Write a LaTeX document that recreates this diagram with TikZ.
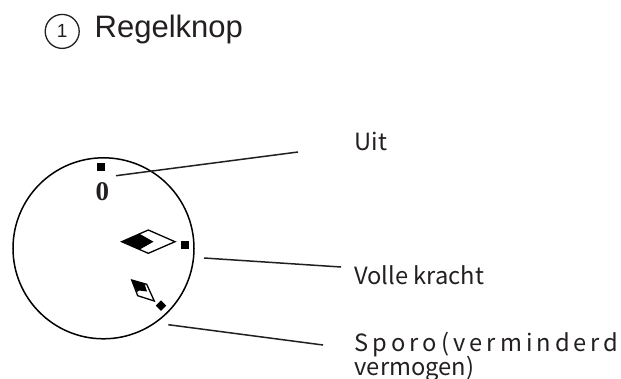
\documentclass[tikz,border=0pt]{standalone}
\usepackage{fontspec}
\setmainfont{Liberation Sans}
\newfontfamily\notocjk{Noto Sans CJK SC}
\newfontfamily\notospaced[LetterSpace=17]{Noto Sans CJK SC}
\newfontfamily\timesb{Liberation Serif}[BoldFont={Liberation Serif Bold}]
\definecolor{ink}{HTML}{231F20}
\tikzset{
  lab/.style={anchor=base west,inner sep=0pt,text=ink,font=\notocjk\fontsize{23.7}{26}\selectfont},
  leader/.style={draw=ink,line width=1.5pt},
  knob/.style={fill=black,draw=none},
  pointer/.style={draw=black,line width=1.3pt,fill=white,line join=miter},
}
\begin{document}
\begin{tikzpicture}[x=1pt,y=-1pt]
\useasboundingbox (0,0) rectangle (621,378);
\fill[white] (0,0) rectangle (621,378);
% title
\node[circle,draw=ink,line width=1.3pt,minimum size=34pt,inner sep=0pt,text=ink,font=\fontsize{19}{19}\selectfont] (num) at (62.2,31.4) {1};
\node[anchor=base west,inner sep=0pt,text=ink,font=\fontsize{31}{31}\selectfont] (title) at (94.5,37.5) {Regelknop};
% dial
\node[circle,draw=black,line width=1.5pt,minimum size=181pt,inner sep=0pt] (dial) at (103.5,248.3) {};
\node[knob,minimum size=7.7pt,inner sep=0pt] (off) at (100.8,166.8) {};
\node[anchor=base,inner sep=0pt,text=ink,font=\fontsize{27}{27}\selectfont\timesb\bfseries] (zero) at (102.3,200.7) {0};
\node[knob,minimum size=7.7pt,inner sep=0pt] (full) at (185.3,245.3) {};
\node[knob,minimum size=7.4pt,inner sep=0pt,rotate=45] (eco) at (161,305.7) {};
% pointers
\draw[pointer] (121.7,241.7) -- (148.3,230) -- (175,241.7) -- (148.3,253.3) -- cycle;
\fill[black] (121.7,241.7) -- (139.5,233.8) -- (153.5,241.7) -- (139.5,249.6) -- cycle;
\draw[pointer] (131.7,280) -- (146.7,284.3) -- (154.3,301) -- (137.7,295.7) -- cycle;
\fill[black] (131.7,280) -- (144.5,283.6) -- (147,291.5) -- (139,290.5) -- (137,292) -- cycle;
% labels
\node[lab] (uit) at (354.5,150) {Uit};
\node[lab] (volle) at (354,284.3) {Volle kracht};
\node[lab,font=\notospaced\fontsize{23.7}{26}\selectfont] (sporo) at (354.5,351.7) {Sporo(verminderd};
\node[lab] (verm) at (354.5,375) {vermogen)};
% leaders
\coordinate (a1) at (116,175.7);
\coordinate (a2) at (298,152);
\coordinate (b1) at (204,258);
\coordinate (b2) at (341,267);
\coordinate (c1) at (168.3,324.7);
\coordinate (c2) at (323,345);
\draw[leader] (a1) -- (a2);
\draw[leader] (b1) -- (b2);
\draw[leader] (c1) -- (c2);
\end{tikzpicture}
\end{document}
